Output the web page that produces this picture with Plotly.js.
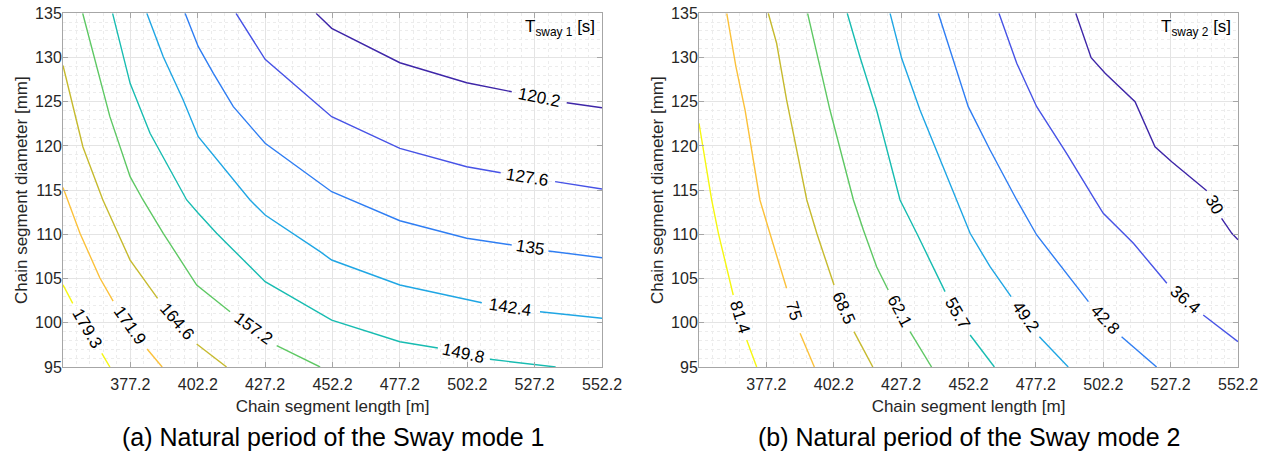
<!DOCTYPE html>
<html>
<head>
<meta charset="utf-8">
<script src="https://cdn.plot.ly/plotly-3.0.1.min.js"></script>
<style>
  html, body { margin: 0; padding: 0; background: #ffffff; }
  #chart { width: 1270px; height: 463px; }
</style>
</head>
<body>
<div id="chart"></div>
<script>
// ---------------- data ----------------
const xTickVals = [377.2, 402.2, 427.2, 452.2, 477.2, 502.2, 527.2, 552.2];
const yTickVals = [95, 100, 105, 110, 115, 120, 125, 130, 135];

// Sway mode 1 : contour levels [s] and their traced lines (null = label gap)
const sway1Levels = [120.2, 127.6, 135, 142.4, 149.8, 157.2, 164.6, 171.9, 179.3];
const sway1X = [
  [446.1, 451.9, 477.2, 502.0, 518.7, null, 539.1, 552.2],
  [416.4, 427.2, 447.6, 451.9, 477.2, 502.0, 514.6, null, 534.8, 552.2],
  [397.5, 402.4, 408.0, 415.4, 427.2, 447.6, 451.9, 477.2, 502.0, 518.7, null, 532.3, 552.2],
  [383.3, 389.4, 396.8, 402.4, 421.6, 427.2, 447.6, 451.9, 477.2, 507.6, null, 529.2, 552.2],
  [370.6, 377.1, 384.5, 398.1, 402.4, 409.2, 427.2, 447.6, 451.9, 477.2, 491.3, null, 510.6, 527.3, 535.0],
  [359.5, 364.7, 369.6, 377.1, 381.9, 389.4, 401.8, 414.2, null, 431.5, 447.6],
  [352.2, 356.0, 359.6, 367.0, 377.1, 387.3, null, 401.8, 412.9],
  [352.2, 358.5, 365.9, 370.8, null, 383.4, 389.0],
  [352.2, 355.8, null, 366.6, 369.6]
];
const sway1Y = [
  [135, 133.3, 129.41, 127.15, 126.13, null, 124.89, 124.32],
  [135, 129.8, 124.44, 123.31, 119.73, 117.65, 116.97, null, 115.96, 115.13],
  [135, 131.22, 128.21, 124.44, 120.3, 115.78, 114.82, 111.54, 109.56, 108.8, null, 108.12, 107.36],
  [135, 130.09, 125.2, 121.04, 113.89, 112.19, 108.04, 107.1, 104.27, 102.27, null, 101.25, 100.51],
  [135, 127.08, 121.43, 113.89, 112.38, 110.12, 104.65, 101.07, 100.31, 97.86, 97.15, null, 95.87, 95.23, 95.0],
  [135, 128.96, 123.31, 116.52, 113.89, 110.12, 104.27, 101.25, null, 97.41, 95.0],
  [129.1, 124.44, 119.88, 113.89, 107.09, 102.77, null, 97.6, 95.0],
  [115.3, 110.12, 105.06, 102.46, null, 97.03, 95.0],
  [104.3, 102.2, null, 96.55, 95.0]
];

// Sway mode 2
const sway2Levels = [30, 36.4, 42.8, 49.2, 55.7, 62.1, 68.5, 75, 81.4];
const sway2X = [
  [492.0, 497.7, 502.9, 514.0, 521.4, 527.6, 540.6, null, 546.1, 549.9, 552.2],
  [463.5, 470.1, 477.5, 488.6, 499.1, 502.2, 513.4, 525.8, null, 539.3, 552.2],
  [441.0, 445.3, 452.1, 460.2, 470.1, 477.5, 496.7, null, 509.0, 522.0],
  [423.1, 427.4, 434.2, 444.1, 452.8, 460.2, 468.0, null, 478.5, 489.2],
  [407.2, 411.9, 418.1, 426.8, 433.0, 441.6, 443.5, null, 452.8, 461.8],
  [392.5, 395.9, 400.8, 409.5, 413.2, 418.1, 422.4, null, 430.5, 438.5],
  [377.9, 381.0, 384.7, 392.2, 395.9, 400.2, 402.3, null, 409.7, 416.7],
  [362.5, 365.9, 369.3, 374.8, 378.5, 382.3, 384.7, null, 389.7, 395.0],
  [352.2, 356.9, 359.4, 363.1, 364.9, null, 369.9, 373.6]
];
const sway2Y = [
  [135, 129.98, 128.21, 125.0, 119.91, 118.22, 114.94, null, 111.82, 110.12, 109.4],
  [135, 129.35, 124.44, 119.17, 113.89, 112.38, 108.99, 104.47, null, 100.88, 97.87],
  [135, 130.85, 124.44, 119.54, 113.89, 109.93, 102.39, null, 98.43, 95.0],
  [135, 129.91, 124.06, 116.52, 110.12, 106.34, 102.95, null, 98.43, 95.0],
  [135, 130.09, 124.06, 113.89, 110.12, 104.65, 103.52, null, 98.62, 95.0],
  [135, 130.48, 124.06, 113.89, 110.49, 106.34, 103.71, null, 98.99, 95.0],
  [135, 131.61, 125.2, 113.89, 110.12, 106.34, 104.27, null, 99.0, 95.0],
  [135, 128.96, 124.06, 113.89, 110.12, 106.34, 103.9, null, 98.81, 95.0],
  [122.56, 113.89, 110.12, 105.6, 103.14, null, 98.05, 95.0]
];

// ---------------- styling / layout ----------------
const W = 1270, H = 463;
const FONT = '"Liberation Sans", Arial, Helvetica, sans-serif';
const parula9 = ['#3e26a8', '#4753e6', '#2f7ef3', '#1fa6e4', '#17bcb1', '#5ec864', '#c6ba2e', '#fbc13a', '#f5f70f'];
const X_RANGE = [352.2, 552.2], Y_RANGE = [95, 135];
const dom1 = [63 / W, 602 / W], dom2 = [699 / W, 1238 / W];
const yDom = [(H - 367) / H, (H - 13.3) / H];

const traces = [];
const annotations = [];

function addPanel(levels, xs, ys, xa, ya, xDom) {
  const pxPerX = (xDom[1] - xDom[0]) * W / (X_RANGE[1] - X_RANGE[0]);
  const pxPerY = (yDom[1] - yDom[0]) * H / (Y_RANGE[1] - Y_RANGE[0]);
  levels.forEach((lev, i) => {
    traces.push({
      x: xs[i], y: ys[i], xaxis: xa, yaxis: ya,
      type: 'scatter', mode: 'lines', connectgaps: false,
      line: { color: parula9[i], width: 1.4 },
      hoverinfo: 'skip', showlegend: false
    });
    const k = xs[i].indexOf(null);
    if (k > 0) {
      const x0 = xs[i][k - 1], y0 = ys[i][k - 1], x1 = xs[i][k + 1], y1 = ys[i][k + 1];
      let ang = Math.atan2(-(y1 - y0) * pxPerY, (x1 - x0) * pxPerX) * 180 / Math.PI;
      if (ang > 90) ang -= 180;
      if (ang < -90) ang += 180;
      annotations.push({
        x: (x0 + x1) / 2, y: (y0 + y1) / 2, xref: xa, yref: ya,
        text: String(lev), textangle: ang, showarrow: false,
        font: { family: FONT, size: 17, color: '#000000' }
      });
    }
  });
}
addPanel(sway1Levels, sway1X, sway1Y, 'x', 'y', dom1);
addPanel(sway2Levels, sway2X, sway2Y, 'x2', 'y2', dom2);

function xAxis(dom, anchor) {
  return {
    domain: dom, anchor: anchor, range: X_RANGE,
    tickmode: 'array', tickvals: xTickVals, ticktext: xTickVals.map(v => v.toFixed(1)),
    ticks: 'inside', ticklen: 5, tickcolor: '#a6a6a6', tickwidth: 1,
    showline: true, linecolor: '#a6a6a6', linewidth: 1, mirror: 'ticks',
    showgrid: true, gridcolor: '#e4e4e4', gridwidth: 1, zeroline: false,
    minor: { tick0: 352.2, dtick: 5, showgrid: true, gridcolor: '#ececec', griddash: 'dot', gridwidth: 1 },
    tickfont: { family: FONT, size: 16, color: '#262626' },
    ticklabelstandoff: 3,
    title: { text: 'Chain segment length [m]', font: { family: FONT, size: 17, color: '#262626' }, standoff: 7 },
    fixedrange: true
  };
}
function yAxis(anchor) {
  return {
    domain: yDom, anchor: anchor, range: Y_RANGE,
    tickmode: 'array', tickvals: yTickVals,
    ticks: 'inside', ticklen: 5, tickcolor: '#a6a6a6', tickwidth: 1,
    showline: true, linecolor: '#a6a6a6', linewidth: 1, mirror: 'ticks',
    showgrid: true, gridcolor: '#e4e4e4', gridwidth: 1, zeroline: false,
    minor: { tick0: 95, dtick: 1, showgrid: true, gridcolor: '#ececec', griddash: 'dot', gridwidth: 1 },
    tickfont: { family: FONT, size: 16, color: '#262626' },
    ticklabelstandoff: -3,
    title: { text: 'Chain segment diameter [mm]', font: { family: FONT, size: 17, color: '#262626' }, standoff: 3 },
    fixedrange: true
  };
}

annotations.push(
  { xref: 'x domain', yref: 'y domain', x: 0.99, y: 0.995, xanchor: 'right', yanchor: 'top',
    text: 'T<sub>sway 1</sub> [s]', showarrow: false,
    font: { family: FONT, size: 17, color: '#000000' } },
  { xref: 'x2 domain', yref: 'y2 domain', x: 0.99, y: 0.995, xanchor: 'right', yanchor: 'top',
    text: 'T<sub>sway 2</sub> [s]', showarrow: false,
    font: { family: FONT, size: 17, color: '#000000' } },
  { xref: 'paper', yref: 'paper', x: (dom1[0] + dom1[1]) / 2, y: 26 / H, xanchor: 'center', yanchor: 'middle',
    text: '(a) Natural period of the Sway mode 1', showarrow: false, font: { family: FONT, size: 25, color: '#000000' } },
  { xref: 'paper', yref: 'paper', x: (dom2[0] + dom2[1]) / 2, y: 26 / H, xanchor: 'center', yanchor: 'middle',
    text: '(b) Natural period of the Sway mode 2', showarrow: false, font: { family: FONT, size: 25, color: '#000000' } }
);

const layout = {
  width: W, height: H,
  margin: { l: 0, r: 0, t: 0, b: 0 },
  paper_bgcolor: '#ffffff', plot_bgcolor: '#ffffff',
  showlegend: false,
  xaxis: xAxis(dom1, 'y'),
  yaxis: yAxis('x'),
  xaxis2: xAxis(dom2, 'y2'),
  yaxis2: yAxis('x2'),
  annotations: annotations,
  font: { family: FONT }
};

Plotly.newPlot('chart', traces, layout, { displayModeBar: false, staticPlot: true });
</script>
</body>
</html>
